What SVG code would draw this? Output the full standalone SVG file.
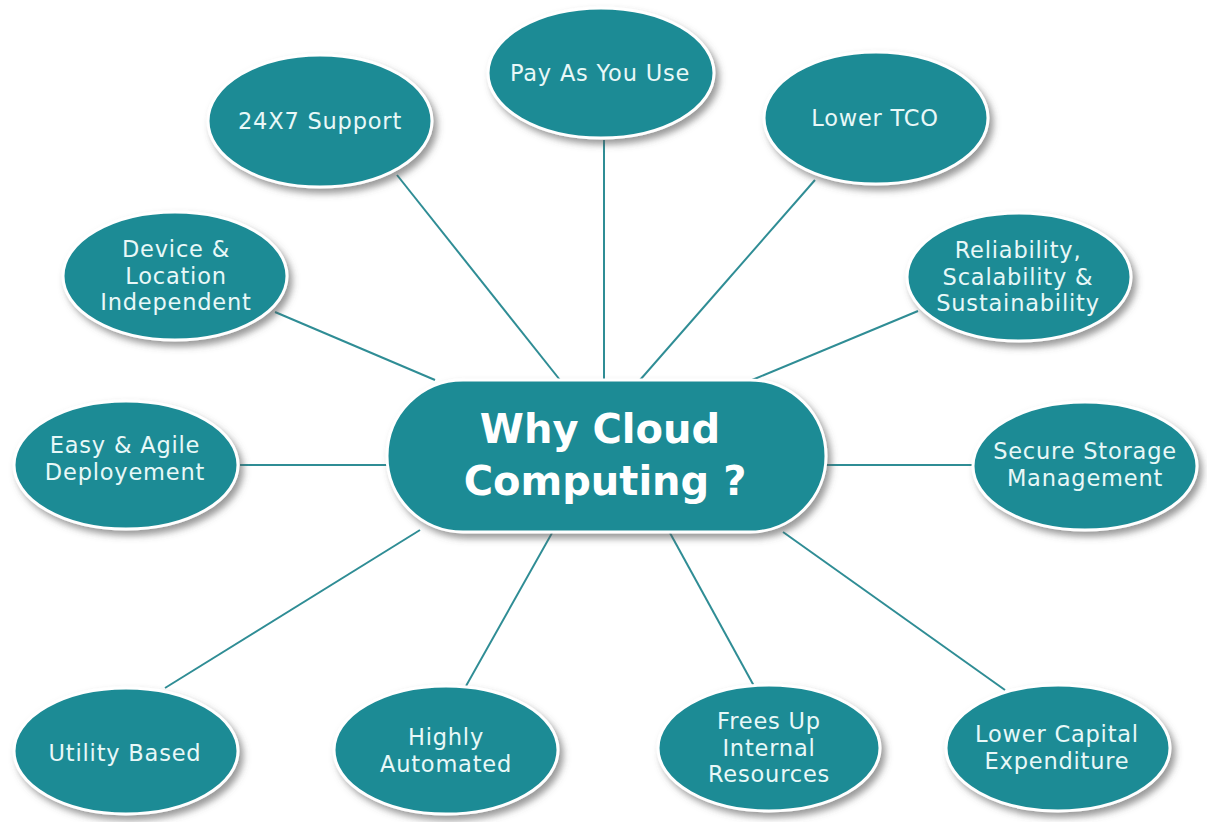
<svg xmlns="http://www.w3.org/2000/svg" width="1207" height="822" viewBox="0 0 1207 822">
<defs>
<filter id="sh" x="-20%" y="-20%" width="140%" height="150%">
<feDropShadow dx="4" dy="5" stdDeviation="3.5" flood-color="#555" flood-opacity="0.6"/>
</filter>
</defs>
<style>
.n{fill:#1f8b95;stroke:#ffffff;stroke-width:3;filter:url(#sh)}
.t{font-family:"DejaVu Sans",Verdana,sans-serif;font-size:22.5px;letter-spacing:0.8px;fill:#e8f8f8;text-anchor:middle}
.c{font-family:"DejaVu Sans",Verdana,sans-serif;font-size:40px;font-weight:bold;fill:#ffffff;text-anchor:middle}
.l{stroke:#2f8d95;stroke-width:2;fill:none}
</style>
<rect width="1207" height="822" fill="#ffffff"/>
<g id="connectors">
<line class="l" x1="604" y1="140" x2="604" y2="380"/>
<line class="l" x1="397" y1="175" x2="560" y2="380"/>
<line class="l" x1="815" y1="180" x2="640" y2="380"/>
<line class="l" x1="275" y1="312" x2="435" y2="380"/>
<line class="l" x1="918" y1="311" x2="752" y2="380"/>
<line class="l" x1="240" y1="465" x2="387" y2="465"/>
<line class="l" x1="826" y1="465" x2="973" y2="465"/>
<line class="l" x1="165" y1="688" x2="420" y2="530"/>
<line class="l" x1="466" y1="686" x2="552" y2="533"/>
<line class="l" x1="754" y1="686" x2="670" y2="533"/>
<line class="l" x1="1005" y1="690" x2="783" y2="532"/>
</g>
<g id="center">
<rect class="n" x="387" y="380" width="439" height="152" rx="76" ry="76"/>
<text class="c" x="600" y="443">Why Cloud</text>
<text class="c" x="605" y="495">Computing ?</text>
</g>
<g id="pay">
<ellipse class="n" cx="601" cy="73" rx="113" ry="65"/>
<text class="t" x="600" y="81">Pay As You Use</text>
</g>
<g id="support">
<ellipse class="n" cx="320" cy="121" rx="112" ry="66"/>
<text class="t" x="320" y="129">24X7 Support</text>
</g>
<g id="tco">
<ellipse class="n" cx="876" cy="118" rx="112" ry="66"/>
<text class="t" x="875" y="126">Lower TCO</text>
</g>
<g id="device">
<ellipse class="n" cx="175" cy="276" rx="112" ry="64"/>
<text class="t" x="176" y="257">Device &amp;</text>
<text class="t" x="176" y="283.5">Location</text>
<text class="t" x="176" y="310">Independent</text>
</g>
<g id="reliability">
<ellipse class="n" cx="1019" cy="277" rx="112" ry="64"/>
<text class="t" x="1018" y="258">Reliability,</text>
<text class="t" x="1018" y="284.5">Scalability &amp;</text>
<text class="t" x="1018" y="311">Sustainability</text>
</g>
<g id="easy">
<ellipse class="n" cx="126" cy="465" rx="112" ry="64"/>
<text class="t" x="125" y="453">Easy &amp; Agile</text>
<text class="t" x="125" y="479.5">Deployement</text>
</g>
<g id="secure">
<ellipse class="n" cx="1085" cy="466" rx="112" ry="64"/>
<text class="t" x="1085" y="459">Secure Storage</text>
<text class="t" x="1085" y="485.5">Management</text>
</g>
<g id="utility">
<ellipse class="n" cx="126" cy="751" rx="112" ry="63"/>
<text class="t" x="125" y="761">Utility Based</text>
</g>
<g id="automated">
<ellipse class="n" cx="446" cy="750" rx="112" ry="64"/>
<text class="t" x="446" y="745">Highly</text>
<text class="t" x="446" y="771.5">Automated</text>
</g>
<g id="frees">
<ellipse class="n" cx="769" cy="748" rx="111" ry="63"/>
<text class="t" x="769" y="729">Frees Up</text>
<text class="t" x="769" y="755.5">Internal</text>
<text class="t" x="769" y="782">Resources</text>
</g>
<g id="capital">
<ellipse class="n" cx="1058" cy="748" rx="112" ry="63"/>
<text class="t" x="1057" y="742">Lower Capital</text>
<text class="t" x="1057" y="768.5">Expenditure</text>
</g>
</svg>
